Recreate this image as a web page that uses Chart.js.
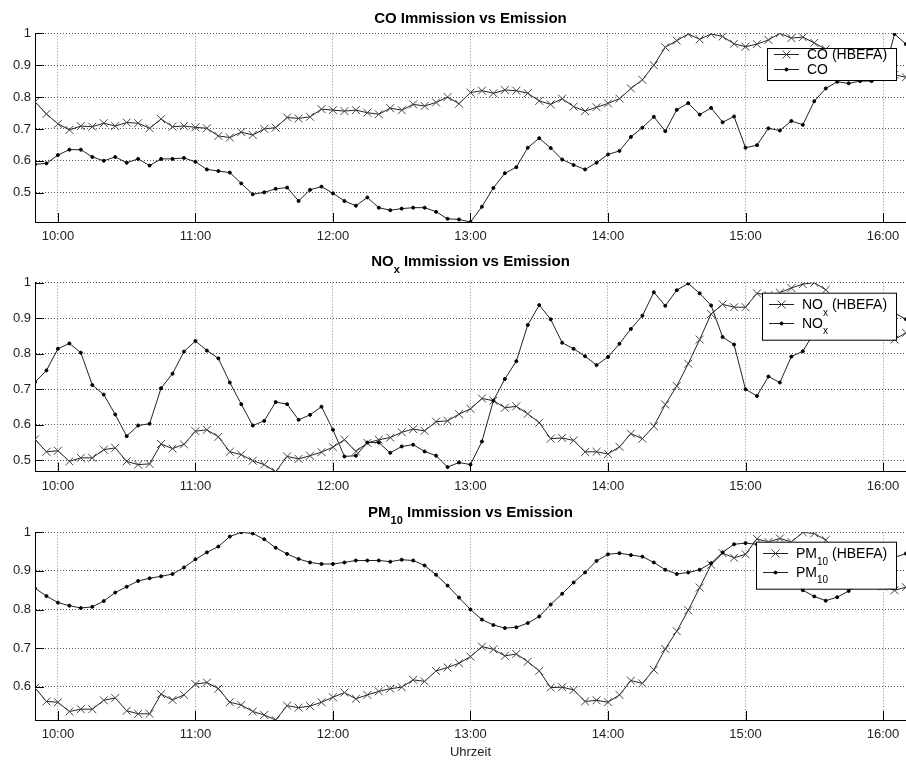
<!DOCTYPE html>
<html>
<head>
<meta charset="utf-8">
<script src="https://cdn.jsdelivr.net/npm/chart.js@4/dist/chart.umd.min.js"></script>
<style>
  body { margin: 0; background: #fff; }
  #wrap { position: relative; width: 906px; height: 762px; background: #fff; }
  canvas { position: absolute; left: 0; }
</style>
</head>
<body>
<div id="wrap">
  <canvas id="c1" width="906" height="250" style="top:0px"></canvas>
  <canvas id="c2" width="906" height="250" style="top:250px"></canvas>
  <canvas id="c3" width="906" height="262" style="top:500px"></canvas>
</div>
<script>
// measurement times, every 5 minutes
const times = [
  '09:50','09:55',
  '10:00','10:05','10:10','10:15','10:20','10:25','10:30','10:35','10:40','10:45','10:50','10:55',
  '11:00','11:05','11:10','11:15','11:20','11:25','11:30','11:35','11:40','11:45','11:50','11:55',
  '12:00','12:05','12:10','12:15','12:20','12:25','12:30','12:35','12:40','12:45','12:50','12:55',
  '13:00','13:05','13:10','13:15','13:20','13:25','13:30','13:35','13:40','13:45','13:50','13:55',
  '14:00','14:05','14:10','14:15','14:20','14:25','14:30','14:35','14:40','14:45','14:50','14:55',
  '15:00','15:05','15:10','15:15','15:20','15:25','15:30','15:35','15:40','15:45','15:50','15:55',
  '16:00','16:05','16:10'
];
const xTickLabels = ['10:00','11:00','12:00','13:00','14:00','15:00','16:00'];
const yTicks = [0.5, 0.6, 0.7, 0.8, 0.9, 1];

// CO
const coHbefa = [
  0.785, 0.747,
  0.716, 0.697, 0.709, 0.707, 0.718, 0.709, 0.720, 0.718, 0.702, 0.731, 0.707, 0.709,
  0.705, 0.702, 0.678, 0.673, 0.690, 0.681, 0.700, 0.704, 0.736, 0.733, 0.738, 0.762,
  0.759, 0.756, 0.759, 0.751, 0.746, 0.765, 0.759, 0.777, 0.772, 0.783, 0.800, 0.779,
  0.814, 0.820, 0.812, 0.822, 0.820, 0.812, 0.788, 0.777, 0.795, 0.770, 0.756, 0.768,
  0.780, 0.795, 0.827, 0.854, 0.900, 0.956, 0.977, 0.998, 0.981, 0.998, 0.990, 0.967,
  0.958, 0.966, 0.979, 1.000, 0.985, 0.988, 0.970, 0.950, 0.930, 0.915, 0.900, 0.890,
  0.880, 0.870, 0.862
];
const coMeas = [
  0.589, 0.592,
  0.618, 0.635, 0.635, 0.612, 0.600, 0.612, 0.594, 0.606, 0.585, 0.606, 0.606, 0.609,
  0.597, 0.573, 0.568, 0.563, 0.529, 0.495, 0.501, 0.512, 0.516, 0.474, 0.509, 0.519,
  0.498, 0.474, 0.459, 0.485, 0.453, 0.445, 0.450, 0.453, 0.453, 0.440, 0.418, 0.416,
  0.408, 0.456, 0.515, 0.561, 0.580, 0.641, 0.671, 0.640, 0.604, 0.587, 0.573, 0.594,
  0.620, 0.631, 0.675, 0.704, 0.738, 0.693, 0.760, 0.781, 0.745, 0.766, 0.721, 0.739,
  0.641, 0.649, 0.702, 0.695, 0.725, 0.713, 0.787, 0.827, 0.848, 0.843, 0.850, 0.850,
  0.860, 0.998, 0.966
];

// NOx
const noxHbefa = [
  0.559, 0.524,
  0.527, 0.497, 0.507, 0.507, 0.530, 0.535, 0.497, 0.488, 0.490, 0.546, 0.533, 0.545,
  0.582, 0.586, 0.566, 0.524, 0.516, 0.499, 0.488, 0.468, 0.511, 0.504, 0.513, 0.523,
  0.537, 0.558, 0.525, 0.549, 0.558, 0.564, 0.579, 0.588, 0.583, 0.609, 0.611, 0.630,
  0.645, 0.674, 0.668, 0.648, 0.652, 0.631, 0.606, 0.561, 0.563, 0.556, 0.524, 0.524,
  0.518, 0.538, 0.575, 0.561, 0.596, 0.657, 0.709, 0.772, 0.840, 0.912, 0.939, 0.931,
  0.931, 0.970, 0.965, 0.972, 0.985, 0.996, 1.000, 0.980, 0.950, 0.920, 0.890, 0.870,
  0.855, 0.840, 0.859
];
const noxMeas = [
  0.720, 0.753,
  0.814, 0.829, 0.803, 0.712, 0.685, 0.629, 0.568, 0.598, 0.603, 0.703, 0.744, 0.806,
  0.836, 0.809, 0.787, 0.719, 0.658, 0.598, 0.611, 0.664, 0.658, 0.614, 0.628, 0.651,
  0.586, 0.511, 0.513, 0.550, 0.550, 0.521, 0.539, 0.544, 0.525, 0.513, 0.481, 0.494,
  0.488, 0.553, 0.668, 0.729, 0.779, 0.881, 0.937, 0.897, 0.831, 0.814, 0.793, 0.768,
  0.791, 0.828, 0.870, 0.907, 0.973, 0.935, 0.979, 0.998, 0.970, 0.936, 0.847, 0.826,
  0.700, 0.681, 0.736, 0.719, 0.792, 0.807, 0.860, 0.890, 0.920, 0.940, 0.950, 0.940,
  0.930, 0.915, 0.897
];

// PM10
const pmHbefa = [
  0.597, 0.562,
  0.560, 0.536, 0.542, 0.542, 0.565, 0.571, 0.538, 0.530, 0.530, 0.581, 0.566, 0.579,
  0.607, 0.611, 0.595, 0.560, 0.553, 0.536, 0.527, 0.514, 0.551, 0.546, 0.550, 0.560,
  0.573, 0.585, 0.569, 0.579, 0.588, 0.595, 0.599, 0.618, 0.614, 0.641, 0.650, 0.661,
  0.678, 0.704, 0.697, 0.680, 0.685, 0.665, 0.641, 0.598, 0.599, 0.592, 0.562, 0.565,
  0.560, 0.579, 0.616, 0.609, 0.644, 0.698, 0.744, 0.798, 0.857, 0.916, 0.946, 0.934,
  0.943, 0.983, 0.975, 0.984, 0.975, 1.000, 0.997, 0.980, 0.950, 0.920, 0.890, 0.870,
  0.860, 0.850, 0.858
];
const pmMeas = [
  0.855, 0.835,
  0.818, 0.810, 0.804, 0.807, 0.822, 0.844, 0.859, 0.874, 0.881, 0.886, 0.892, 0.909,
  0.930, 0.948, 0.963, 0.989, 1.000, 0.997, 0.982, 0.960, 0.944, 0.931, 0.922, 0.918,
  0.918, 0.922, 0.927, 0.927, 0.927, 0.924, 0.929, 0.927, 0.914, 0.890, 0.862, 0.831,
  0.800, 0.774, 0.760, 0.752, 0.754, 0.765, 0.782, 0.813, 0.841, 0.870, 0.896, 0.926,
  0.943, 0.946, 0.941, 0.937, 0.922, 0.903, 0.892, 0.896, 0.903, 0.920, 0.948, 0.969,
  0.972, 0.969, 0.955, 0.930, 0.890, 0.850, 0.834, 0.823, 0.832, 0.848, 0.870, 0.895,
  0.915, 0.935, 0.945
];

const panelTitles = ['CO Immission vs Emission', 'NO_{x} Immission vs Emission', 'PM_{10} Immission vs Emission'];
const hbefaLabels = ['CO (HBEFA)', 'NO_{x} (HBEFA)', 'PM_{10} (HBEFA)'];
const measLabels = ['CO', 'NO_{x}', 'PM_{10}'];
const yMins = [0.408, 0.468, 0.514];
const xLabel = 'Uhrzeit';

// layout of the three panels (pixels inside each canvas)
const panels = [
  { id: 'c1', top: 33.3, xh: 28,   titleY: 22.9, legTop: 48 },
  { id: 'c2', top: 32.7, xh: 28.3, titleY: 16.2, legTop: 42.7 },
  { id: 'c3', top: 32.3, xh: 42,   titleY: 17.1, legTop: 41.7, xTitle: true }
];

const FONT = '"Liberation Sans", Arial, Helvetica, sans-serif';
Chart.defaults.font.family = FONT;

function toMin(s) {
  const [h, m] = s.split(':').map(Number);
  return h * 60 + m;
}
function fmtMin(v) {
  const h = Math.floor(v / 60), m = Math.round(v % 60);
  return h + ':' + String(m).padStart(2, '0');
}

// split "NO_{x} ..." into normal / subscript pieces
function texParts(s) {
  const parts = [];
  const re = /_\{([^}]*)\}/g;
  let last = 0, m;
  while ((m = re.exec(s))) {
    if (m.index > last) parts.push({ t: s.slice(last, m.index) });
    parts.push({ t: m[1], sub: true });
    last = re.lastIndex;
  }
  if (last < s.length) parts.push({ t: s.slice(last) });
  return parts;
}

function texWidth(ctx, s, font, subFont) {
  let w = 0;
  texParts(s).forEach(p => { ctx.font = p.sub ? subFont : font; w += ctx.measureText(p.t).width; });
  return w;
}

function drawTex(ctx, s, x, y, font, subFont, subDy, center) {
  let cx = center ? x - texWidth(ctx, s, font, subFont) / 2 : x;
  texParts(s).forEach(p => {
    ctx.font = p.sub ? subFont : font;
    ctx.fillText(p.t, cx, y + (p.sub ? subDy : 0));
    cx += ctx.measureText(p.t).width;
  });
}

function drawMarker(ctx, ds, x, y) {
  ctx.save();
  ctx.strokeStyle = ds.pointBorderColor;
  ctx.fillStyle = ds.pointBackgroundColor;
  ctx.lineWidth = ds.pointBorderWidth;
  ctx.beginPath();
  if (ds.pointStyle === 'crossRot') {
    const r = ds.pointRadius * Math.SQRT1_2;
    ctx.moveTo(x - r, y - r); ctx.lineTo(x + r, y + r);
    ctx.moveTo(x - r, y + r); ctx.lineTo(x + r, y - r);
    ctx.stroke();
  } else {
    ctx.arc(x, y, ds.pointRadius, 0, Math.PI * 2);
    ctx.fill(); ctx.stroke();
  }
  ctx.restore();
}

function makePanel(i, hbefa, meas) {
  const p = panels[i];
  const title = panelTitles[i];

  const deco = {
    id: 'deco' + i,
    afterDraw(chart) {
      const ctx = chart.ctx, a = chart.chartArea;
      const xs = chart.scales.x, ys = chart.scales.y;
      ctx.save();

      // matlab style tick marks pointing into the axes
      ctx.strokeStyle = '#000';
      ctx.lineWidth = 1;
      ctx.beginPath();
      xs.ticks.forEach(t => {
        const px = Math.round(xs.getPixelForValue(t.value)) + 0.5;
        ctx.moveTo(px, a.bottom); ctx.lineTo(px, a.bottom - 9);
      });
      ys.ticks.forEach(t => {
        const py = Math.round(ys.getPixelForValue(t.value)) + 0.5;
        ctx.moveTo(a.left, py); ctx.lineTo(a.left + 9, py);
      });
      ctx.stroke();

      // title
      ctx.fillStyle = '#000';
      ctx.textBaseline = 'alphabetic';
      ctx.textAlign = 'left';
      drawTex(ctx, title, (a.left + a.right) / 2, p.titleY,
        'bold 15px ' + FONT, 'bold 11px ' + FONT, 7, true);

      // legend box
      const font = '14px ' + FONT, subFont = '10px ' + FONT;
      const dss = chart.data.datasets;
      const hasSub = dss.some(d => d.label.indexOf('_{') >= 0);
      const tw = Math.max(...dss.map(d => texWidth(ctx, d.label, font, subFont)));
      const right = 896;
      const left = Math.round(right - (40 + tw + 9));
      const top = p.legTop;
      const h = hasSub ? 47 : 32;
      const rows = hasSub ? [16.6, 35] : [11.3, 26.3];
      ctx.fillStyle = '#fff';
      ctx.fillRect(left, top, right - left, h);
      ctx.strokeStyle = '#000';
      ctx.strokeRect(left + 0.5, top + 0.5, right - left, h);
      dss.forEach((ds, k) => {
        const by = top + rows[k];
        const ly = Math.round(by - 5) + 0.5;
        ctx.strokeStyle = ds.borderColor;
        ctx.lineWidth = ds.borderWidth;
        ctx.beginPath();
        ctx.moveTo(left + 7, ly); ctx.lineTo(left + 32, ly);
        ctx.stroke();
        drawMarker(ctx, ds, left + 19.5, ly);
        ctx.fillStyle = '#000';
        drawTex(ctx, ds.label, left + 40, by, font, subFont, 6.5, false);
      });

      ctx.restore();
    }
  };

  const xVals = times.map(toMin);
  const mk = (arr) => arr.map((v, k) => ({ x: xVals[k], y: v }));

  return new Chart(document.getElementById(p.id), {
    type: 'line',
    data: {
      datasets: [
        {
          label: hbefaLabels[i],
          data: mk(hbefa),
          borderColor: '#222',
          borderWidth: 1,
          pointStyle: 'crossRot',
          pointRadius: 5.6,
          pointBorderColor: '#444',
          pointBackgroundColor: '#444',
          pointBorderWidth: 1,
          tension: 0,
          fill: false,
          order: 1
        },
        {
          label: measLabels[i],
          data: mk(meas),
          borderColor: '#222',
          borderWidth: 1,
          pointStyle: 'circle',
          pointRadius: 1.5,
          pointBorderColor: '#000',
          pointBackgroundColor: '#000',
          pointBorderWidth: 1,
          tension: 0,
          fill: false,
          order: 0
        }
      ]
    },
    options: {
      responsive: false,
      animation: false,
      devicePixelRatio: 1,
      events: [],
      layout: { autoPadding: false, padding: { top: p.top, left: 0, right: 0, bottom: 0 } },
      plugins: {
        legend: { display: false },
        tooltip: { enabled: false },
        title: { display: false }
      },
      scales: {
        x: {
          type: 'linear',
          min: xVals[0],
          max: xVals[xVals.length - 1],
          afterFit: s => { s.height = p.xh; },
          afterBuildTicks: s => { s.ticks = xTickLabels.map(l => ({ value: toMin(l) })); },
          ticks: {
            autoSkip: false,
            maxRotation: 0,
            padding: 6.7,
            color: '#222',
            font: { size: 13 },
            callback: v => fmtMin(v)
          },
          grid: { color: '#8a8a8a', lineWidth: 1, drawTicks: false },
          border: { display: true, color: '#000', width: 1, dash: [1, 2] },
          title: {
            display: !!p.xTitle,
            text: xLabel,
            color: '#222',
            font: { size: 13 },
            padding: { top: 0, bottom: 2 }
          }
        },
        y: {
          type: 'linear',
          min: yMins[i],
          max: 1,
          afterFit: s => { s.width = 35; },
          afterBuildTicks: s => { s.ticks = yTicks.filter(v => v >= s.min - 1e-9).map(v => ({ value: v })); },
          ticks: {
            padding: 4,
            color: '#222',
            font: { size: 13 },
            callback: v => String(Math.round(v * 10) / 10)
          },
          grid: { color: '#555', lineWidth: 1, drawTicks: false },
          border: { display: true, color: '#000', width: 1, dash: [1, 2] }
        }
      }
    },
    plugins: [deco]
  });
}

makePanel(0, coHbefa, coMeas);
makePanel(1, noxHbefa, noxMeas);
makePanel(2, pmHbefa, pmMeas);
</script>
</body>
</html>
